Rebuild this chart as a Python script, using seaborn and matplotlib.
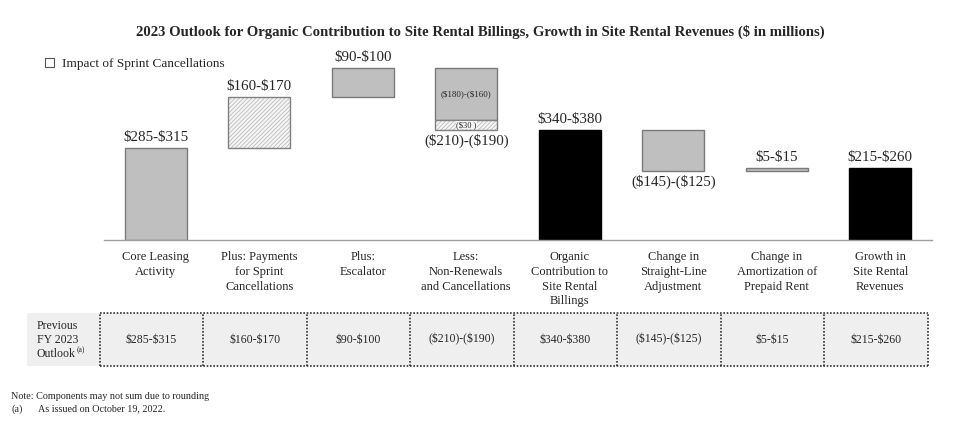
import numpy as np
import pandas as pd
import matplotlib
matplotlib.use("Agg")
import matplotlib.pyplot as plt
from matplotlib.patches import Patch, Rectangle
import seaborn as sns

# ---- data (in $ millions, midpoints of the outlook ranges) ----
categories = [
    "Core Leasing\nActivity",
    "Plus: Payments\nfor Sprint\nCancellations",
    "Plus:\nEscalator",
    "Less:\nNon-Renewals\nand Cancellations",
    "Organic\nContribution to\nSite Rental\nBillings",
    "Change in\nStraight-Line\nAdjustment",
    "Change in\nAmortization of\nPrepaid Rent",
    "Growth in\nSite Rental\nRevenues",
]
range_labels = ["$285-$315", "$160-$170", "$90-$100", "($210)-($190)",
                "$340-$380", "($145)-($125)", "$5-$15", "$215-$260"]
midpoints = [300, 165, 95, -200, 360, -135, 10, 235]
is_total = [False, False, False, False, True, False, False, True]
is_sprint = [False, True, False, False, False, False, False, False]
# split of the non-renewals bar: core part and Sprint part
nonrenewal_core = -170
nonrenewal_sprint = -30
nonrenewal_core_label = "($180)-($160)"
nonrenewal_sprint_label = "($30 )"
previous_outlook = ["$285-$315", "$160-$170", "$90-$100", "($210)-($190)",
                    "$340-$380", "($145)-($125)", "$5-$15", "$215-$260"]

# ---- build waterfall segments ----
rows = []
running = 0
for i, cat in enumerate(categories):
    v = midpoints[i]
    if is_total[i]:
        rows.append((cat, 0, v, "total"))
        running = v
    elif i == 3:
        rows.append((cat, running, nonrenewal_core, "step"))
        rows.append((cat, running + nonrenewal_core, nonrenewal_sprint, "sprint"))
        running += v
    else:
        rows.append((cat, running, v, "sprint" if is_sprint[i] else "step"))
        running += v
seg = pd.DataFrame(rows, columns=["cat", "bottom", "height", "kind"])
seg["pos"] = seg["cat"].map({c: i for i, c in enumerate(categories)})
seg = seg.sort_values("pos")

sns.set_style("white")
plt.rcParams["font.family"] = ["Liberation Serif", "DejaVu Serif"]
plt.rcParams["hatch.linewidth"] = 0.5

fig = plt.figure(figsize=(9.6, 4.48), dpi=100)
ax = fig.add_axes([104 / 960, 1 - 240 / 448, 828 / 960, 190 / 448])

styles = {
    "step": dict(color="#bfbfbf", edgecolor="#7a7a7a", linewidth=1.0),
    "total": dict(color="black", edgecolor="black", linewidth=1.0),
    "sprint": dict(color="#f4f4f4", edgecolor="#b4b4b4", linewidth=0, hatch="////////"),
}
for kind, kw in styles.items():
    sub = seg[seg["kind"] == kind]
    sns.barplot(data=sub, x="cat", y="height", order=categories, bottom=sub["bottom"].values,
                width=0.6, saturation=1, errorbar=None, legend=False, ax=ax, **kw)
# outline for hatched bars
sub = seg[seg["kind"] == "sprint"]
sns.barplot(data=sub, x="cat", y="height", order=categories, bottom=sub["bottom"].values,
            width=0.6, fill=False, color="#808080", errorbar=None, legend=False, ax=ax,
            edgecolor="#808080", linewidth=1.0)

# value labels
running = 0
for i in range(len(categories)):
    v = midpoints[i]
    start = 0 if is_total[i] else running
    end = v if is_total[i] else running + v
    running = end
    if v >= 0:
        ax.annotate(range_labels[i], (i, max(start, end)), xytext=(0, 3), textcoords="offset points",
                    ha="center", va="bottom", fontsize=10.8, parse_math=False)
    else:
        ax.annotate(range_labels[i], (i, min(start, end)), xytext=(0, -3), textcoords="offset points",
                    ha="center", va="top", fontsize=10.8, parse_math=False)

top = sum(midpoints[:3])
ax.text(3, top + nonrenewal_core / 2, nonrenewal_core_label, ha="center", va="center",
        fontsize=6.5, parse_math=False)
ax.text(3, top + nonrenewal_core + nonrenewal_sprint / 2, nonrenewal_sprint_label,
        ha="center", va="center", fontsize=6, parse_math=False, zorder=5,
        bbox=dict(facecolor="#f4f4f4", edgecolor="none", pad=0.3))

ax.set_xlim(-0.5, 7.5)
ax.set_ylim(0, 620)
ax.set_xlabel("")
ax.set_ylabel("")
ax.set_yticks([])
ax.set_xticks(range(len(categories)))
ax.set_xticklabels(categories, fontsize=9, linespacing=1.3, va="top")
ax.set_xticks(np.arange(-0.5, 8, 1), minor=True)
ax.tick_params(axis="x", which="major", length=0, pad=8)
ax.tick_params(axis="x", which="minor", length=5, color="#a0a0a0", width=1, direction="out")
for s in ["top", "right", "left"]:
    ax.spines[s].set_visible(False)
ax.spines["bottom"].set_color("#a0a0a0")
ax.spines["bottom"].set_linewidth(1)

# title and legend
fig.text(0.5, 1 - 32 / 448, "2023 Outlook for Organic Contribution to Site Rental Billings, "
         "Growth in Site Rental Revenues ($ in millions)", ha="center", va="center",
         fontsize=10.6, fontweight="bold", parse_math=False)
fig.legend(handles=[Patch(facecolor="white", edgecolor="#555555", linewidth=0.8)],
           labels=["Impact of Sprint Cancellations"], loc="center left",
           bbox_to_anchor=(38 / 960, 1 - 64 / 448), frameon=False, fontsize=9.5,
           handlelength=0.7, handleheight=0.7, handletextpad=0.6, borderpad=0)

# previous outlook table
tax = fig.add_axes([104 / 960, 1 - 366 / 448, 828 / 960, 53 / 448])
tax.set_xlim(-0.5, 7.5)
tax.set_ylim(0, 1)
tax.axis("off")
off = -0.04
tax.add_patch(Rectangle((-0.5 - 77 / 103.5, 0), 8 + 77 / 103.5 + off, 1, facecolor="#efefef",
                        edgecolor="none", clip_on=False, zorder=0))
dot = dict(color="#333333", linestyle=(0, (1, 1)), linewidth=1.2, clip_on=False)
tax.hlines([0, 1], -0.5 + off, 7.5 + off, **dot)
tax.vlines(np.arange(-0.5, 8, 1) + off, 0, 1, **dot)
for i, t in enumerate(previous_outlook):
    tax.text(i + off, 0.5, t, ha="center", va="center", fontsize=8.5, parse_math=False)
label_x = -0.5 - 67 / 103.5
label_lines = ["Previous", "FY 2023", "Outlook"]
for j, line in enumerate(label_lines):
    t = tax.text(label_x, 0.75 - j * 0.265, line, ha="left", va="center", fontsize=8.5,
                 clip_on=False)
tax.annotate("(a)", xy=(1, 0.85), xycoords=t, xytext=(0.5, 0), textcoords="offset points",
             ha="left", va="center", fontsize=5.5)

# notes
fig.text(11 / 960, 1 - 396 / 448, "Note: Components may not sum due to rounding",
         fontsize=7.3, va="center")
fig.text(11 / 960, 1 - 409 / 448, "(a)", fontsize=7.3, va="center")
fig.text(38 / 960, 1 - 409 / 448, "As issued on October 19, 2022.", fontsize=7.3, va="center")

fig.savefig("out.png", dpi=100)
